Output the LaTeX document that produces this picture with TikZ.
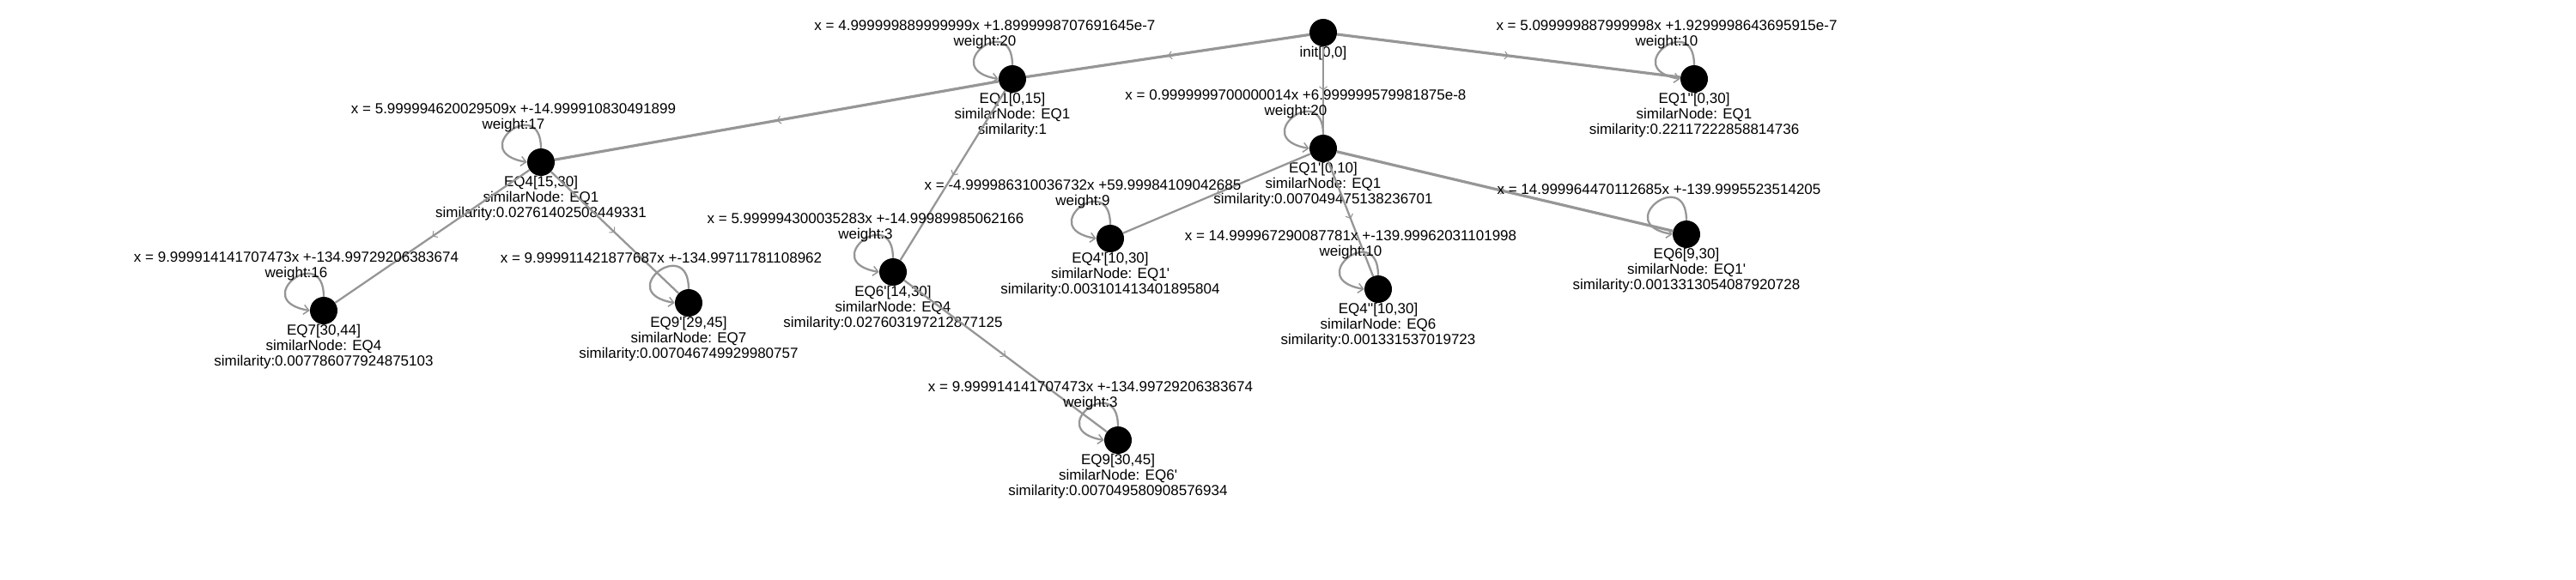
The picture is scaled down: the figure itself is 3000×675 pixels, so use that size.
\documentclass[tikz,border=0pt]{standalone}
\usepackage{fontspec}
\setmainfont{Liberation Sans}[Ligatures=TeXOff]
\usetikzlibrary{arrows.meta,decorations.markings}

\definecolor{edgegray}{RGB}{150,150,150}
\tikzset{
	eqnode/.style={circle,fill=black,minimum size=32pt,inner sep=0pt,label distance=2pt},
	infotext/.style={font=\fontsize{17}{18}\selectfont,align=center,inner sep=0pt},
	looptext/.style={font=\fontsize{17}{18}\selectfont,align=center,inner sep=0pt},
	midarrow/.style={postaction={decorate},decoration={markings,
		mark=at position 0.5 with {\arrow{Straight Barb[length=4pt,width=9pt,line width=1.1pt]}}}},
	wideflow/.style={draw=edgegray,line width=3.2pt,midarrow},
	thinflow/.style={draw=edgegray,line width=2.3pt,midarrow},
	selfloop/.style={draw=edgegray,line width=2.3pt,-{Straight Barb[length=6pt,width=11pt,line width=1.5pt]}}
}

\begin{document}
\begin{tikzpicture}[x=1pt,y=1pt]
	\useasboundingbox (0,0) rectangle (3000,-675);

	% root
	\node[eqnode,label={[infotext]below:{init[0,0]}}] (init) at (1541,-38) {};

	% level 1
	\node[eqnode,label={[infotext]below:{EQ1[0,15]\\similarNode: EQ1\\similarity:1}}] (eq1) at (1179,-92) {};
	\node[eqnode,label={[infotext]below:{EQ1''[0,30]\\similarNode: EQ1\\similarity:0.22117222858814736}}] (eq1pp) at (1973,-92) {};
	\node[eqnode,label={[infotext]below:{EQ1'[0,10]\\similarNode: EQ1\\similarity:0.007049475138236701}}] (eq1p) at (1541,-173) {};

	% level 2
	\node[eqnode,label={[infotext]below:{EQ4[15,30]\\similarNode: EQ1\\similarity:0.02761402508449331}}] (eq4) at (630,-189) {};
	\node[eqnode,label={[infotext]below:{EQ6'[14,30]\\similarNode: EQ4\\similarity:0.027603197212877125}}] (eq6p) at (1040,-317) {};
	\node[eqnode,label={[infotext]below:{EQ4'[10,30]\\similarNode: EQ1'\\similarity:0.003101413401895804}}] (eq4p) at (1293,-278) {};
	\node[eqnode,label={[infotext]below:{EQ4''[10,30]\\similarNode: EQ6\\similarity:0.001331537019723}}] (eq4pp) at (1605,-337) {};
	\node[eqnode,label={[infotext]below:{EQ6[9,30]\\similarNode: EQ1'\\similarity:0.0013313054087920728}}] (eq6) at (1964,-273) {};

	% level 3
	\node[eqnode,label={[infotext]below:{EQ7[30,44]\\similarNode: EQ4\\similarity:0.007786077924875103}}] (eq7) at (377,-362) {};
	\node[eqnode,label={[infotext]below:{EQ9'[29,45]\\similarNode: EQ7\\similarity:0.007046749929980757}}] (eq9p) at (802,-353) {};
	\node[eqnode,label={[infotext]below:{EQ9[30,45]\\similarNode: EQ6'\\similarity:0.007049580908576934}}] (eq9) at (1302,-513) {};

	% edges
	\draw[wideflow] (init) -- (eq1);
	\draw[wideflow] (init) -- (eq1pp);
	\draw[thinflow] (init) -- (eq1p);
	\draw[wideflow] (eq1) -- (eq4);
	\draw[thinflow] (eq1) -- (eq6p);
	\draw[thinflow] (eq1p) -- (eq4p);
	\draw[thinflow] (eq1p) -- (eq4pp);
	\draw[wideflow] (eq1p) -- (eq6);
	\draw[thinflow] (eq4) -- (eq7);
	\draw[thinflow] (eq4) -- (eq9p);
	\draw[thinflow] (eq6p) -- (eq9);

	% self loops
	\draw[selfloop] (eq1.north) .. controls +(0,64) and +(-72,12) .. (eq1.west);
	\draw[selfloop] (eq1pp.north) .. controls +(0,64) and +(-72,12) .. (eq1pp.west);
	\draw[selfloop] (eq1p.north) .. controls +(0,64) and +(-72,12) .. (eq1p.west);
	\draw[selfloop] (eq4.north) .. controls +(0,64) and +(-72,12) .. (eq4.west);
	\draw[selfloop] (eq6p.north) .. controls +(0,64) and +(-72,12) .. (eq6p.west);
	\draw[selfloop] (eq4p.north) .. controls +(0,64) and +(-72,12) .. (eq4p.west);
	\draw[selfloop] (eq4pp.north) .. controls +(0,64) and +(-72,12) .. (eq4pp.west);
	\draw[selfloop] (eq6.north) .. controls +(0,64) and +(-72,12) .. (eq6.west);
	\draw[selfloop] (eq7.north) .. controls +(0,64) and +(-72,12) .. (eq7.west);
	\draw[selfloop] (eq9p.north) .. controls +(0,64) and +(-72,12) .. (eq9p.west);
	\draw[selfloop] (eq9.north) .. controls +(0,64) and +(-72,12) .. (eq9.west);

	% loop labels
	\node[looptext] (eq1fit) at ([shift={(-32,52)}]eq1) {x = 4.999999889999999x +1.8999998707691645e-7\\weight:20};
	\node[looptext] (eq1ppfit) at ([shift={(-32,52)}]eq1pp) {x = 5.099999887999998x +1.9299998643695915e-7\\weight:10};
	\node[looptext] (eq1pfit) at ([shift={(-32,52)}]eq1p) {x = 0.9999999700000014x +6.999999579981875e-8\\weight:20};
	\node[looptext] (eq4fit) at ([shift={(-32,52)}]eq4) {x = 5.999994620029509x +-14.999910830491899\\weight:17};
	\node[looptext] (eq6pfit) at ([shift={(-32,52)}]eq6p) {x = 5.999994300035283x +-14.99989985062166\\weight:3};
	\node[looptext] (eq4pfit) at ([shift={(-32,52)}]eq4p) {x = -4.999986310036732x +59.99984109042685\\weight:9};
	\node[looptext] (eq4ppfit) at ([shift={(-32,52)}]eq4pp) {x = 14.999967290087781x +-139.99962031101998\\weight:10};
	\node[looptext] (eq6fit) at ([shift={(-32,52)}]eq6) {x = 14.999964470112685x +-139.9995523514205};
	\node[looptext] (eq7fit) at ([shift={(-32,52)}]eq7) {x = 9.999914141707473x +-134.99729206383674\\weight:16};
	\node[looptext] (eq9pfit) at ([shift={(-32,52)}]eq9p) {x = 9.999911421877687x +-134.99711781108962};
	\node[looptext] (eq9fit) at ([shift={(-32,52)}]eq9) {x = 9.999914141707473x +-134.99729206383674\\weight:3};
\end{tikzpicture}
\end{document}
